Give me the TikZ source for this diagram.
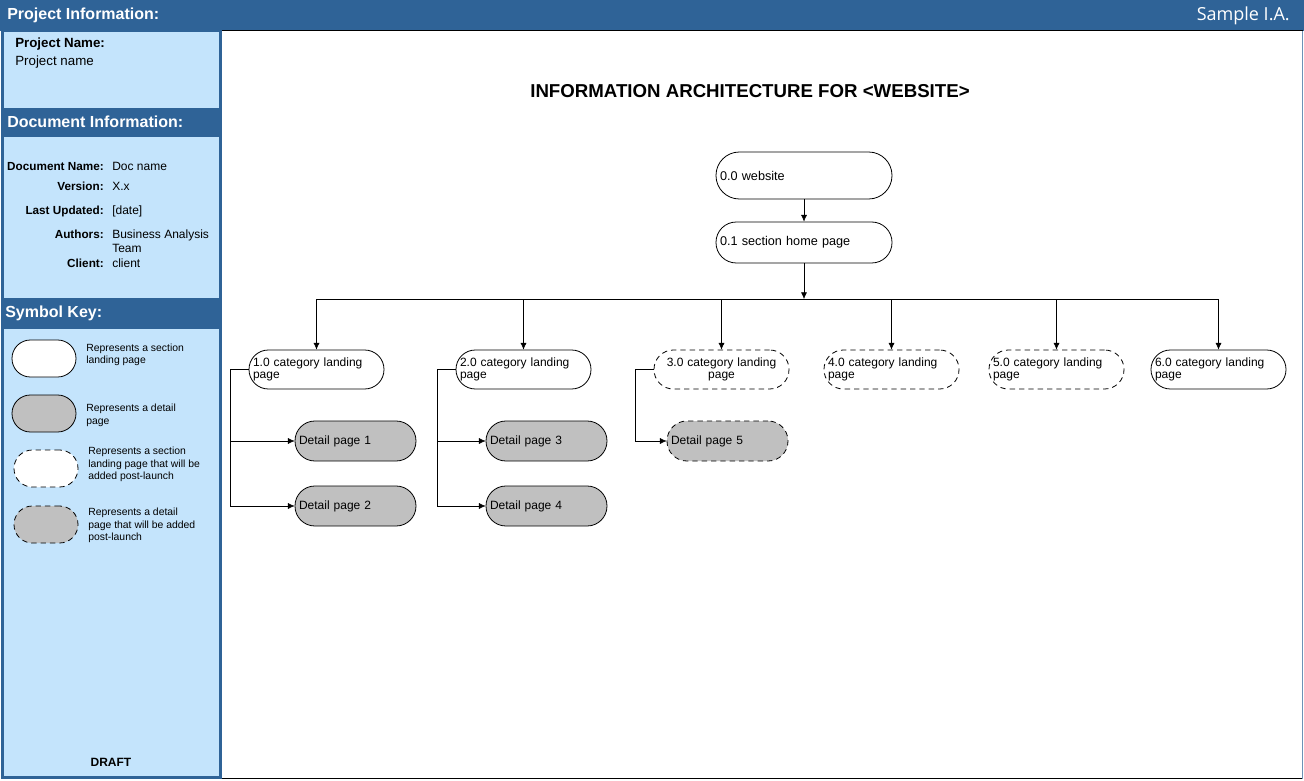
\documentclass[tikz,border=0pt]{standalone}
\usepackage{fontspec}
\setmainfont{Liberation Sans}
\newfontfamily\headfont{Open Sans}
\usetikzlibrary{arrows.meta}
\definecolor{barblue}{RGB}{47,99,151}
\definecolor{panelblue}{RGB}{196,228,252}
\definecolor{pagegray}{RGB}{192,192,192}

\begin{document}
\begin{tikzpicture}[x=0.75pt,y=-0.75pt,
		>={Latex[length=5pt,width=4.5pt]},
		every node/.style={inner sep=0pt},
		bartext/.style={anchor=west,text=white,font=\fontsize{12}{14}\selectfont\bfseries},
		field/.style={anchor=mid east,font=\fontsize{8.8}{10}\selectfont\bfseries},
		value/.style={anchor=mid west,font=\fontsize{9}{10.5}\selectfont},
		keytext/.style={anchor=west,align=left,font=\fontsize{7.8}{9.4}\selectfont},
		page/.style={draw,line width=0.6pt,fill=white,align=left,inner xsep=3pt,font=\fontsize{9}{9.5}\selectfont},
		topbox/.style={page,text width=126pt,font=\fontsize{9.5}{11}\selectfont},
		catbox/.style={page,text width=95.25pt,minimum height=29.25pt,rounded corners=14.5pt},
		detbox/.style={page,fill=pagegray,text width=84.75pt,minimum height=30pt,rounded corners=14.9pt},
		keybox/.style={draw,line width=0.6pt,fill=white,minimum width=48pt,minimum height=27.75pt,rounded corners=13.8pt},
		later/.style={dash pattern=on 4pt off 3pt}]
		\useasboundingbox (0,0) rectangle (1304,781);
		% Bandeau du haut
		\fill[barblue] (0,0) rectangle (1304,31);
		\node[bartext] (projhead) at (7,15) {Project Information:};
		\node[anchor=east,text=white,font=\headfont\fontsize{13.5}{15}\selectfont] (brand) at (1290,16) {Sample I.A.};
		
		% Zone principale
		\draw[line width=0.75pt] (221,31) rectangle (1302,778);
		\draw[barblue!70,line width=1.2pt] (1302.5,31) -- (1302.5,779);
		
		% Panneau de gauche
		\fill[panelblue] (2,31) rectangle (220,777);
		\fill[barblue] (2,108) rectangle (220,137);
		\fill[barblue] (2,298) rectangle (220,329);
		\draw[barblue,line width=2.25pt] (2,31) rectangle (220,777);
		
		\node[anchor=west,font=\fontsize{10}{12}\selectfont\bfseries] (projl) at (15,44) {Project Name:};
		\node[anchor=west,font=\fontsize{10}{12}\selectfont] (projv) at (15,62) {Project name};
		
		\node[bartext] (dochead) at (7,122) {Document Information:};
		\node[field] (docl) at (104,166.5) {Document Name:};
		\node[value] (docv) at (112,166.5) {Doc name};
		\node[field] (verl) at (104,187) {Version:};
		\node[value] (verv) at (112,187) {X.x};
		\node[field] (updl) at (104,211) {Last Updated:};
		\node[value] (updv) at (112,211) {[date]};
		\node[field] (autl) at (104,235) {Authors:};
		\node[value,anchor=north west,align=left] (autv) at (112,229.5) {Business Analysis\\Team};
		\node[field] (clil) at (104,264) {Client:};
		\node[value] (cliv) at (112,264) {client};
		
		\node[bartext] (keyhead) at (5,313) {Symbol Key:};
		\node[keybox] (key1) at (44,358.5) {};
		\node[keybox,fill=pagegray] (key2) at (44,413.5) {};
		\node[keybox,later] (key3) at (46,468.5) {};
		\node[keybox,later,fill=pagegray] (key4) at (46,524.5) {};
		\node[keytext] (keytxt1) at (86,355) {Represents a section\\landing page};
		\node[keytext] (keytxt2) at (86,415.5) {Represents a detail\\page};
		\node[keytext] (keytxt3) at (88,464.5) {Represents a section\\landing page that will be\\added post-launch};
		\node[keytext] (keytxt4) at (88,525.5) {Represents a detail\\page that will be added\\post-launch};
		
		\node[font=\fontsize{9}{10}\selectfont\bfseries] (draft) at (111,762) {DRAFT};
		
		% Arborescence
		\node[font=\fontsize{14}{16}\selectfont\bfseries] (title) at (750,91) {INFORMATION ARCHITECTURE FOR <WEBSITE>};
		
		\node[topbox,minimum height=35.25pt,rounded corners=17.5pt] (web) at (804,175.5) {0.0 website};
		\node[topbox,minimum height=30.75pt,rounded corners=15.2pt] (home) at (804,242.5) {0.1 section home page};
		
		\node[catbox] (c1) at (316.5,369.5) {1.0 category landing\\page};
		\node[catbox] (c2) at (523.5,369.5) {2.0 category landing\\page};
		\node[catbox,later,align=center] (c3) at (721.5,369.5) {3.0 category landing\\page};
		\node[catbox,later] (c4) at (891.5,369.5) {4.0 category landing\\page};
		\node[catbox,later] (c5) at (1056.5,369.5) {5.0 category landing\\page};
		\node[catbox] (c6) at (1218.5,369.5) {6.0 category landing\\page};
		
		\node[detbox] (d1) at (355.5,441) {Detail page 1};
		\node[detbox] (d2) at (355.5,506) {Detail page 2};
		\node[detbox] (d3) at (546.5,441) {Detail page 3};
		\node[detbox] (d4) at (546.5,506) {Detail page 4};
		\node[detbox,later] (d5) at (727.5,441) {Detail page 5};
		
		\coordinate (bus) at (804,299);
		\draw[->] (web) -- (home);
		\draw[->] (home) -- (bus);
		\draw (c1.north |- bus) -- (c6.north |- bus);
		\foreach \c in {c1,c2,c3,c4,c5,c6}
			\draw[->] (\c.north |- bus) -- (\c.north);
		\foreach \c/\d in {c1/d1,c1/d2,c2/d3,c2/d4,c3/d5}
			\draw[->] (\c.west) -- ++(-18,0) |- (\d.west);
	\end{tikzpicture}
\end{document}
